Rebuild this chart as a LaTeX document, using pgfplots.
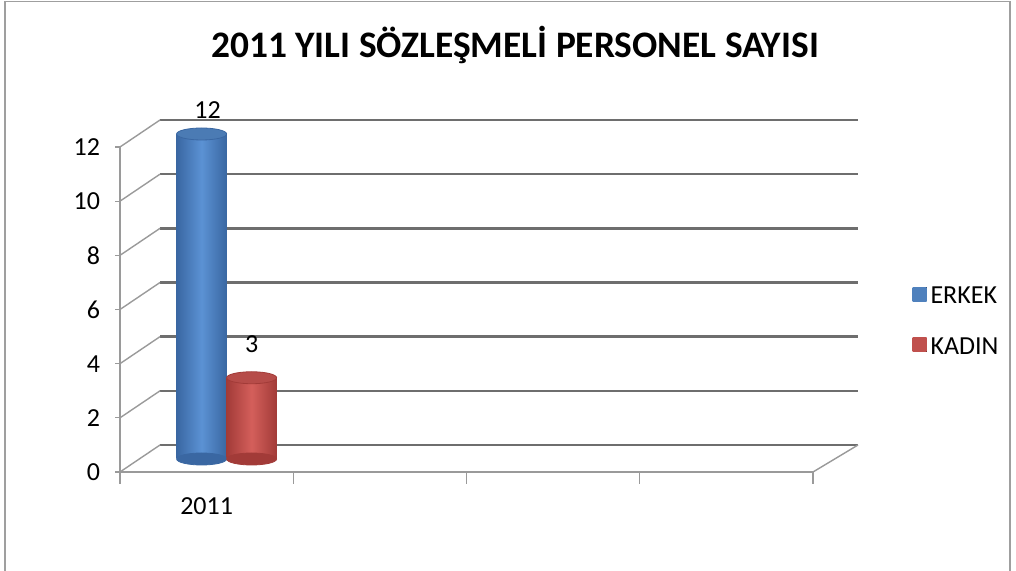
\documentclass[border=0pt]{standalone}
\usepackage{fontspec}
\setmainfont{Carlito}
\usepackage{pgfplots}
\pgfplotsset{compat=1.18}
\definecolor{erkek}{HTML}{4F81BD}
\definecolor{erkekD}{HTML}{3A67A2}
\definecolor{erkekL}{HTML}{5B92D4}
\definecolor{kadin}{HTML}{C0504D}
\definecolor{kadinD}{HTML}{A23B38}
\definecolor{kadinL}{HTML}{D45F5B}
\definecolor{gridc}{HTML}{6E6E6E}
\definecolor{diagc}{HTML}{9A9A9A}
\pgfdeclareplotmark{cylend}{%
  \pgfpathellipse{\pgfpointorigin}{\pgfqpoint{12.5pt}{0pt}}{\pgfqpoint{0pt}{3pt}}%
  \pgfusepathqfillstroke}
\begin{document}
\begin{tikzpicture}[font=\fontsize{13}{15.6}\selectfont]
\useasboundingbox (0,0) rectangle (508pt,285.5pt);
\draw[gray!75, line width=0.8pt] (2.5pt,-2pt) -- (2.5pt,284.8pt) -- (505pt,284.8pt) -- (505pt,-2pt);
\node[font=\fontsize{18.7}{22}\selectfont\bfseries] at (257.5pt,263pt) {2011 YILI SÖZLEŞMELİ PERSONEL SAYISI};
\begin{axis}[
  at={(60pt,49.5pt)}, anchor=south west,
  scale only axis, width=346.5pt, height=162.5pt,
  xmin=0, xmax=4, ymin=0, ymax=12,
  clip=false,
  axis x line*=bottom, axis y line*=left,
  axis line style={draw=diagc, line width=0.6pt, -},
  ytick={0,2,...,12},
  xtick={0.5}, xticklabels={2011},
  minor xtick={0,1,2,3,4},
  tick align=outside,
  major tick length=2.5pt,
  minor tick length=6pt,
  xtick style={draw=none},
  minor x tick style={draw=diagc, line width=0.6pt},
  ytick style={draw=diagc, line width=0.6pt},
  /pgf/number format/assume math mode=true,
  yticklabel style={xshift=-4pt},
  xticklabel style={yshift=-7pt},
  legend style={at={(axis description cs:1.143,0.582)}, anchor=north west, draw=none, fill=none, inner sep=0pt, row sep=11.5pt, font=\fontsize{13}{15.6}\selectfont},
  legend cell align=left,
]
% back wall grid, left wall, floor
\pgfplotsinvokeforeach{0,2,...,12}{
  \draw[gridc, line width=1.3pt] ([xshift=20pt,yshift=13.5pt]axis cs:0,#1) -- ([xshift=22.5pt,yshift=13.5pt]axis cs:4,#1);
  \draw[diagc, line width=0.7pt] (axis cs:0,#1) -- ([xshift=20pt,yshift=13.5pt]axis cs:0,#1);
}
\draw[diagc, line width=0.7pt] (axis cs:4,0) -- ([xshift=22.5pt,yshift=13.5pt]axis cs:4,0);
% bottoms
\addplot[forget plot, only marks, mark=cylend, xshift=-2.5pt, yshift=6.5pt, mark options={fill=erkekD, draw=erkekD}] coordinates {(0.5,0)};
\addplot[forget plot, only marks, mark=cylend, xshift=22.5pt, yshift=6.5pt, mark options={fill=kadinD, draw=kadinD}] coordinates {(0.5,0)};
% bodies
\addplot[ybar, bar width=25pt, bar shift=-12.5pt, xshift=10pt, yshift=6.5pt, draw=none,
  left color=erkekD, right color=erkekD, middle color=erkekL,
  legend image code/.code={\fill[left color=erkek, right color=erkek, middle color=erkek] (0.5pt,-8.5pt) rectangle (7.5pt,-1.5pt);},
  nodes near coords, every node near coord/.append style={text=black, yshift=4pt, xshift=-9.5pt}]
  coordinates {(0.5,12)};
\addlegendentry{ERKEK}
\addplot[ybar, bar width=25pt, bar shift=12.5pt, xshift=10pt, yshift=6.5pt, draw=none,
  left color=kadinD, right color=kadinD, middle color=kadinL,
  legend image code/.code={\fill[left color=kadin, right color=kadin, middle color=kadin] (0.5pt,-8.5pt) rectangle (7.5pt,-1.5pt);},
  nodes near coords, every node near coord/.append style={text=black, yshift=9pt, xshift=12.5pt}]
  coordinates {(0.5,3)};
\addlegendentry{KADIN}
% tops
\addplot[forget plot, only marks, mark=cylend, xshift=-2.5pt, yshift=6.5pt, mark options={fill=erkek!95!black, draw=erkekD}] coordinates {(0.5,12)};
\addplot[forget plot, only marks, mark=cylend, xshift=22.5pt, yshift=6.5pt, mark options={fill=kadin!95!black, draw=kadinD}] coordinates {(0.5,3)};
\end{axis}
\end{tikzpicture}
\end{document}
